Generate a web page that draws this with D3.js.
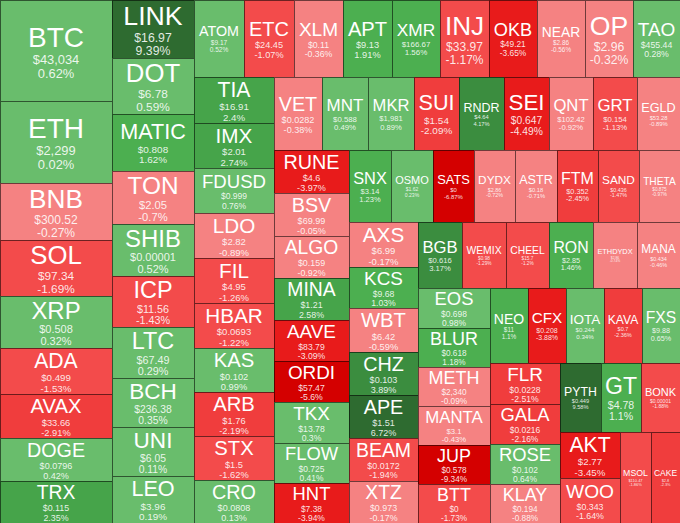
<!DOCTYPE html>
<html>
<head>
<meta charset="utf-8">
<script src="https://cdn.jsdelivr.net/npm/d3@7"></script>
<style>
  body { margin: 0; background: #ffffff; }
  svg { display: block; }
  text { font-family: "Liberation Sans", Arial, sans-serif; fill: #ffffff; text-anchor: middle; }
</style>
</head>
<body>
<script>
var WIDTH = 680, HEIGHT = 523;

// coins in layout order (biggest first)
var SYMBOLS = [
  "BTC","ETH","BNB","SOL","XRP","ADA","AVAX","DOGE","TRX",
  "LINK","DOT","MATIC","TON","SHIB","ICP","LTC","BCH","UNI","LEO",
  "ATOM","ETC","XLM","APT","XMR","INJ","OKB","NEAR","OP","TAO",
  "TIA","IMX","FDUSD","LDO","FIL","HBAR","KAS","ARB","STX","CRO",
  "VET","MNT","MKR","SUI","RNDR","SEI","QNT","GRT","EGLD",
  "RUNE","BSV","ALGO","MINA","AAVE","ORDI","TKX","FLOW","HNT",
  "SNX","OSMO","SATS","DYDX","ASTR","FTM","SAND","THETA",
  "AXS","KCS","WBT","CHZ","APE","BEAM","XTZ",
  "BGB","WEMIX","CHEEL","RON","ETHDYDX","MANA",
  "EOS","BLUR","METH","MANTA","JUP","BTT",
  "NEO","CFX","IOTA","KAVA","FXS",
  "FLR","GALA","ROSE","KLAY",
  "PYTH","GT","BONK",
  "AKT","WOO",
  "MSOL","CAKE"
];

var PRICES = [
  "43,034","2,299","300.52","97.34","0.508","0.499","33.66","0.0796","0.115",
  "16.97","6.78","0.808","2.05","0.00001","11.56","67.49","236.38","6.05","3.96",
  "9.17","24.45","0.11","9.13","166.67","33.97","49.21","2.86","2.96","455.44",
  "16.91","2.01","0.999","2.82","4.95","0.0693","0.102","1.76","1.5","0.0808",
  "0.0282","0.588","1,981","1.54","4.64","0.647","102.42","0.154","53.28",
  "4.6","69.99","0.159","1.21","83.79","57.47","13.78","0.725","7.38",
  "3.14","1.62","0","2.86","0.18","0.352","0.436","0.875",
  "6.99","9.68","6.42","0.103","1.51","0.0172","0.973",
  "0.616","0.98","15.7","2.85","2.86","0.434",
  "0.698","0.618","2,340","3.1","0.578","0",
  "11","0.208","0.244","0.7","9.88",
  "0.0228","0.0216","0.102","0.194",
  "0.449","4.78","0.00001",
  "2.77","0.343",
  "110.47","2.8"
];

var CHANGES = [
  0.62, 0.02, -0.27, -1.69, 0.32, -1.53, -2.91, 0.42, 2.35,
  9.39, 0.59, 1.62, -0.7, 0.52, -1.43, 0.29, 0.35, 0.11, 0.19,
  0.52, -1.07, -0.36, 1.91, 1.56, -1.17, -3.65, -0.56, -0.32, 0.28,
  2.4, 2.74, 0.76, -0.89, -1.26, -1.22, 0.99, -2.19, -1.62, 0.13,
  -0.38, 0.49, 0.89, -2.09, 4.17, -4.49, -0.92, -1.13, -0.89,
  -3.97, -0.05, -0.92, 2.58, -3.09, -5.6, 0.3, 0.41, -3.94,
  1.23, 0.23, -6.87, -0.72, -0.71, -2.45, -1.47, -0.97,
  -0.17, 1.03, -0.59, 3.89, 6.72, -1.94, -0.17,
  3.17, -1.29, -1.2, 1.46, -0.74, -0.46,
  0.98, 1.18, -0.09, -0.43, -9.34, -1.73,
  1.1, -3.88, 0.34, -2.36, 0.65,
  -2.51, -2.16, 0.64, -0.88,
  9.58, 1.1, -1.88,
  -3.45, -1.64,
  -1.86, -2.3
];

// relative tile sizes
var WEIGHTS = [
  11312, 9184, 6384, 6272, 5824, 5152, 4928, 4816, 4704,
  4700, 4650, 4592, 4346, 4230, 4180, 4150, 4018, 4000, 3854,
  3850, 3840, 3740, 3730, 3720, 3700, 3690, 3680, 3670, 3619,
  3680, 3620, 3610, 3600, 3590, 3580, 3540, 3520, 3500, 3440,
  3480, 3370, 3360, 3300, 3290, 3280, 3220, 3210, 3140,
  3225, 3210, 3130, 3120, 3110, 3080, 3020, 3010, 3000,
  3024, 2990, 2985, 2980, 2975, 2970, 2960, 2950,
  3065, 2870, 2995, 2980, 2965, 2960, 2900,
  2904, 2860, 2890, 2885, 2880, 2840,
  2840, 2830, 2810, 2800, 2800, 2790,
  2860, 2855, 2850, 2845, 2840,
  2870, 2800, 2765, 2765,
  2795, 2790, 2690,
  2760, 2700,
  2730, 2670
];

// how many coins go in each squarified strip
var BAND_SIZES = [9, 10, 10, 10, 9, 9, 8, 7, 6, 6, 5, 4, 3, 2, 2];

var CHANGE_STEPS = [-5, -3, -2, -1, 0, 1, 2, 3, 5];
var CHANGE_COLORS = ["#d40000", "#e81b1b", "#f03d3d", "#f34b4b", "#f58282",
                     "#69bd6c", "#4caf50", "#46a44a", "#3b8d3f", "#2e6b30"];


function bandTile(parent, x0, y0, x1, y1)
{
  var nodes = parent.children, value = parent.value, start = 0;
  BAND_SIZES.forEach(function(n)
  {
    var band = {children: nodes.slice(start, start + n)};
    band.value = d3.sum(band.children, function(d) { return d.value; });
    if (x1 - x0 < y1 - y0)
      d3.treemapDice(band, x0, y0, x1, y0 += (y1 - y0) * band.value / value);
    else
      d3.treemapSlice(band, x0, y0, x0 += (x1 - x0) * band.value / value, y1);
    value -= band.value;
    start += n;
  });
}


function drawTreemap()
{
  var items = SYMBOLS.map(function(s, i)
  {
    return {symbol: s, price: PRICES[i], change: CHANGES[i], weight: WEIGHTS[i]};
  });

  var root = d3.hierarchy({children: items}).sum(function(d) { return d.weight || 0; });

  d3.treemap()
    .size([WIDTH, HEIGHT])
    .tile(bandTile)
    .round(true)(root);

  var color = d3.scaleThreshold().domain(CHANGE_STEPS).range(CHANGE_COLORS);

  var svg = d3.select("body").append("svg")
                .attr("width", WIDTH)
                .attr("height", HEIGHT);

  var cells = svg.selectAll("g.cell")
                .data(root.leaves())
                .join("g")
                .attr("class", "cell")
                .attr("transform", function(d) { return "translate(" + d.x0 + "," + d.y0 + ")"; });

  cells.append("rect")
        .attr("width", function(d) { return d.x1 - d.x0; })
        .attr("height", function(d) { return d.y1 - d.y0; })
        .style("fill", function(d) { return color(d.data.change); })
        .style("stroke", "rgba(0,0,0,0.55)")
        .style("stroke-width", 1)
        .style("shape-rendering", "crispEdges");

  // labels: fit the symbol to the tile, numbers at about half its size
  cells.each(function(d)
  {
    var g = d3.select(this), w = d.x1 - d.x0, h = d.y1 - d.y0;
    var sym = g.append("text").style("font-size", "100px").text(d.data.symbol);
    var em = sym.node().getComputedTextLength() / 100;
    var f = Math.min(28, h * 0.46, w * 0.8 / em);

    sym.style("font-size", f + "px")
       .attr("x", w / 2)
       .attr("y", h / 2 - 0.14 * f);

    g.append("text")
       .attr("x", w / 2)
       .attr("y", h / 2 + 0.48 * f)
       .style("font-size", (0.46 * f) + "px")
       .style("fill-opacity", 0.88)
       .text("$" + d.data.price);

    g.append("text")
       .attr("x", w / 2)
       .attr("y", h / 2 + 0.97 * f)
       .style("font-size", (0.46 * f) + "px")
       .style("fill-opacity", 0.88)
       .text(d.data.change + "%");
  });
}

drawTreemap();
</script>
</body>
</html>
